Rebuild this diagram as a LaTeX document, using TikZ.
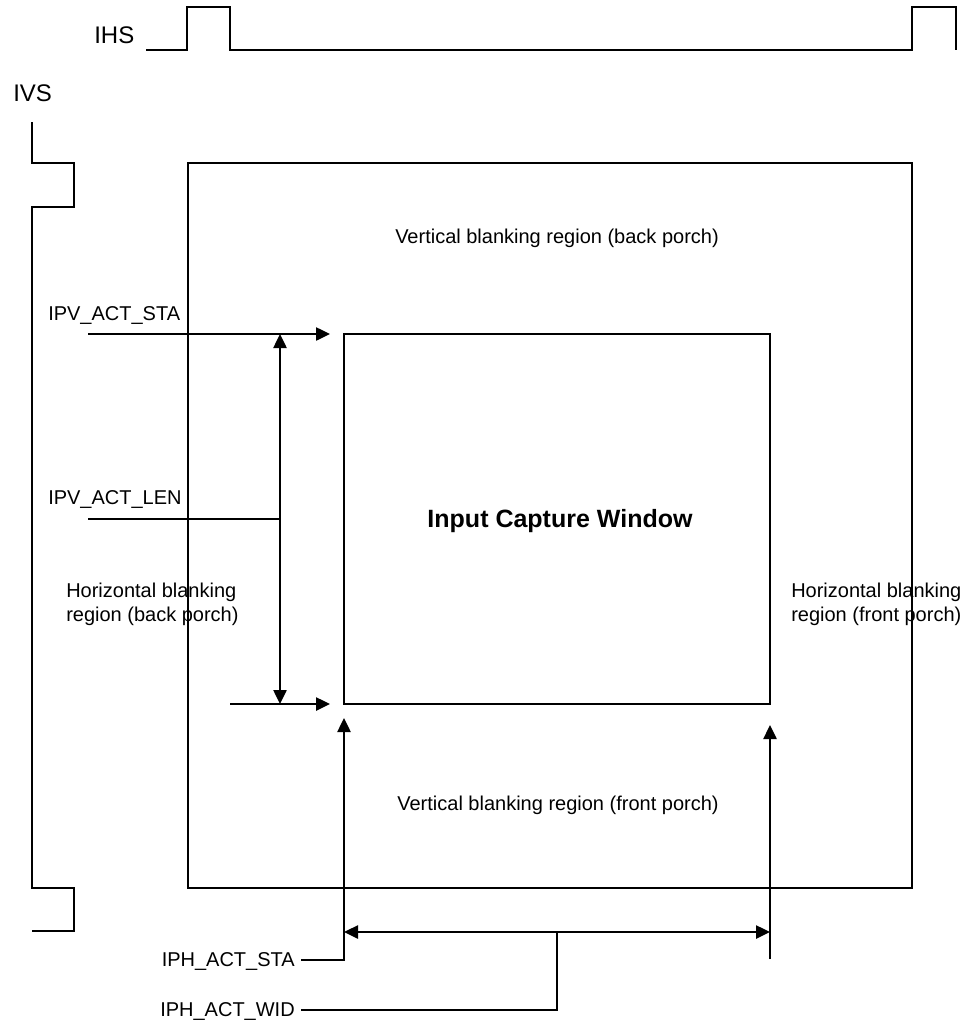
\documentclass[tikz,border=0pt]{standalone}
\usepackage{fontspec}
\setmainfont{Liberation Sans}
\usetikzlibrary{arrows.meta}
\begin{document}
\begin{tikzpicture}[x=1pt,y=-1pt, line width=2.5pt,
  lbl/.style={font=\fontsize{20}{24}\selectfont, inner sep=0pt},
  sig/.style={font=\fontsize{24}{28}\selectfont, inner sep=0pt},
  arr/.style={-{Triangle[length=14pt,width=13pt]}},
  darr/.style={{Triangle[length=14pt,width=13pt]}-{Triangle[length=14pt,width=13pt]}}]
\useasboundingbox (0,0) rectangle (966,1025);

% sync waveforms
\node[sig, anchor=base west] (ihs) at (93,44) {IHS};
\draw (146,50) -- (187,50) -- (187,7) -- (230,7) -- (230,50) -- (912,50) -- (912,7) -- (956,7) -- (956,50);
\node[sig, anchor=base west] (ivs) at (12,101) {IVS};
\draw (32,122) -- (32,163) -- (74,163) -- (74,207) -- (32,207) -- (32,888) -- (74,888) -- (74,931) -- (32,931);

% frame and window
\draw (188,163) rectangle (912,888);
\node[draw, minimum width=426pt, minimum height=370pt, inner sep=0pt, outer sep=0pt] (win) at (557,519) {};
\node[font=\fontsize{25}{30}\selectfont\bfseries, inner sep=0pt, anchor=base] (wintxt) at (560,527) {Input Capture Window};

% region labels
\node[lbl, anchor=base] (vbb) at (557,243) {Vertical blanking region (back porch)};
\node[lbl, anchor=base] (vbf) at (558,810) {Vertical blanking region (front porch)};
\node[lbl, anchor=base west, align=left] (hbb) at (65,621) {Horizontal blanking\\region (back porch)};
\node[lbl, anchor=base west, align=left] (hbf) at (790,621) {Horizontal blanking\\region (front porch)};

% register labels
\node[lbl, anchor=base west] (ipvsta) at (47,320) {IPV\_ACT\_STA};
\node[lbl, anchor=base west] (ipvlen) at (47,504) {IPV\_ACT\_LEN};
\node[lbl, anchor=base east] (iphsta) at (296,966) {IPH\_ACT\_STA};
\node[lbl, anchor=base east] (iphwid) at (296,1016) {IPH\_ACT\_WID};

% connector points
\coordinate (vsta0) at (88,334);
\coordinate (vlen0) at (88,519);
\coordinate (vend0) at (230,704);
\coordinate (vlenx) at (280,519);
\coordinate (hsta0) at (301,960);
\coordinate (hwid0) at (301,1010);
\coordinate (hend0) at (770,959);
\coordinate (hwidx) at (557,932);

% vertical markers
\draw[arr] (vsta0) -- ([xshift=-14pt]win.north west);
\draw[arr] (vend0) -- ([xshift=-14pt]win.south west);
\draw[darr] ([xshift=-64pt]win.north west) -- ([xshift=-64pt]win.south west);
\draw (vlen0) -- (vlenx);

% horizontal markers
\draw[arr] (hsta0) -| ([yshift=-14pt]win.south west);
\draw[arr] (hend0) -- ([yshift=-21pt]win.south east);
\draw[darr] ([yshift=-228pt]win.south west) -- ([yshift=-228pt]win.south east);
\draw (hwidx) |- (hwid0);
\end{tikzpicture}
\end{document}
